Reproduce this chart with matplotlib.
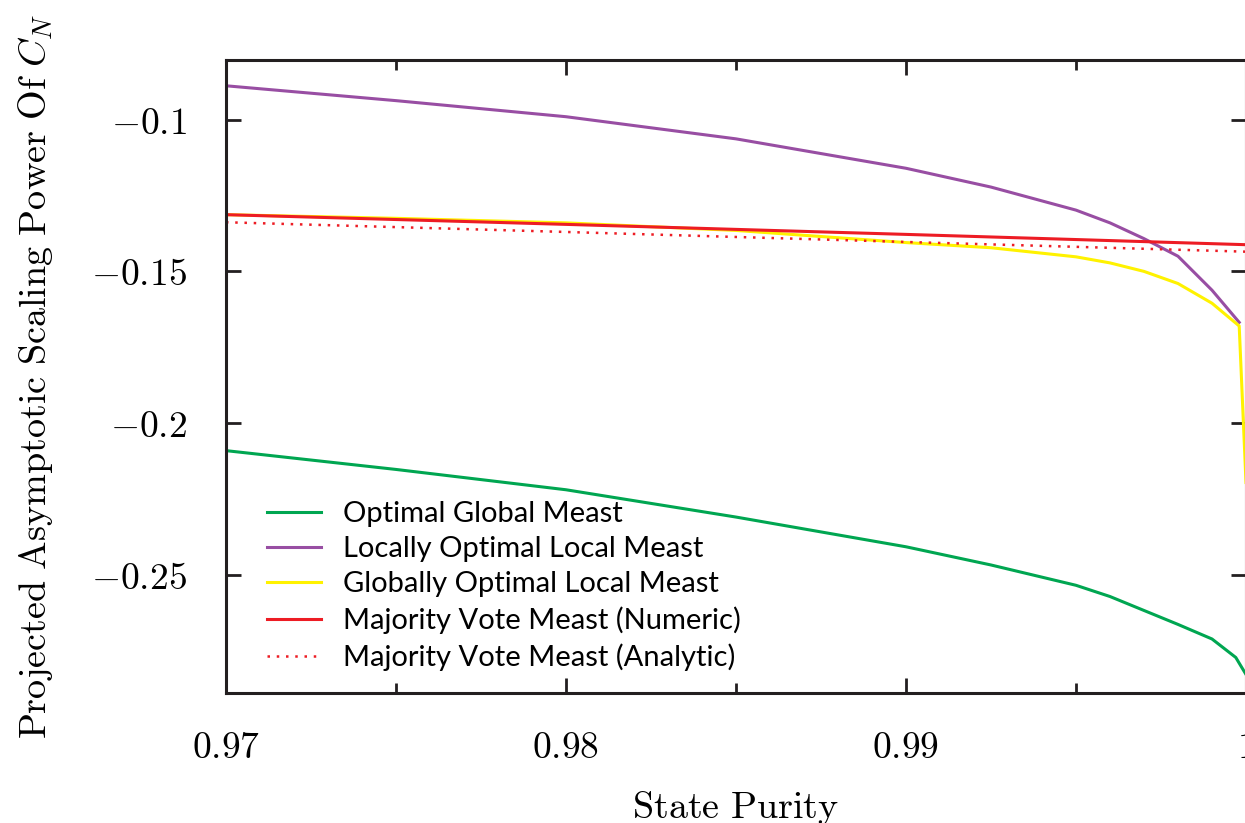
import numpy as np
import matplotlib
matplotlib.use('Agg')
import matplotlib.pyplot as plt
from matplotlib.ticker import FixedLocator, FuncFormatter

plt.rcParams['mathtext.fontset'] = 'cm'

# 数据
x_main = [0.970, 0.975, 0.980, 0.985, 0.990, 0.9925, 0.995, 0.996, 0.997, 0.998, 0.999, 0.9998]
optimal_global_x = [0.970, 0.975, 0.980, 0.985, 0.990, 0.9925, 0.995, 0.996, 0.997, 0.998, 0.999, 0.9997, 1.000]
optimal_global = [-0.2091, -0.2153, -0.2220, -0.2310, -0.2408, -0.2468, -0.2535, -0.2572, -0.2618, -0.2664, -0.2712, -0.2773, -0.2829]
locally_optimal = [-0.0888, -0.0937, -0.0990, -0.1063, -0.1160, -0.1222, -0.1298, -0.1340, -0.1392, -0.1450, -0.1562, -0.1668]
globally_optimal_x = [0.970, 0.975, 0.980, 0.985, 0.990, 0.9925, 0.995, 0.996, 0.997, 0.998, 0.999, 0.9998, 1.000]
globally_optimal = [-0.1313, -0.1325, -0.1340, -0.1365, -0.1405, -0.1422, -0.1452, -0.1472, -0.1500, -0.1540, -0.1605, -0.1680, -0.2196]
majority_x = [0.970, 0.980, 0.990, 1.000]
majority_numeric = [-0.1313, -0.1345, -0.1378, -0.1412]
majority_analytic = [-0.1338, -0.1370, -0.1403, -0.1435]

labels = ['Optimal Global Meast', 'Locally Optimal Local Meast', 'Globally Optimal Local Meast',
          'Majority Vote Meast (Numeric)', 'Majority Vote Meast (Analytic)']

# 构建画布
fig = plt.figure(figsize=(12.45, 8.23), dpi=100)
ax = fig.add_axes([0.1815, 0.158, 0.8193, 0.7691])

lw = 2.2
ax.plot(optimal_global_x, optimal_global, color='#00a651', lw=lw, label=labels[0])
ax.plot(x_main, locally_optimal, color='#984ea3', lw=lw, label=labels[1])
ax.plot(globally_optimal_x, globally_optimal, color='#fff200', lw=lw, label=labels[2])
ax.plot(majority_x, majority_numeric, color='#ed1c24', lw=lw, label=labels[3])
ax.plot(majority_x, majority_analytic, color='#ed1c24', lw=1.8, ls=(0, (1, 2.7)), label=labels[4])

ax.set_xlim(0.97, 1.0)
ax.set_ylim(-0.289, -0.0803)

# 刻度
ax.xaxis.set_major_locator(FixedLocator([0.97, 0.98, 0.99, 1.0]))
ax.xaxis.set_minor_locator(FixedLocator([0.975, 0.985, 0.995]))
ax.yaxis.set_major_locator(FixedLocator([-0.25, -0.2, -0.15, -0.1]))
ax.xaxis.set_major_formatter(FuncFormatter(lambda v, p: '$%g$' % round(v, 3)))
ax.yaxis.set_major_formatter(FuncFormatter(lambda v, p: '$%g$' % round(v, 3)))
ax.tick_params(which='both', direction='in', top=True, right=True, width=2, color='#231f20')
ax.tick_params(which='major', length=11, labelsize=27)
ax.tick_params(which='minor', length=7)
ax.tick_params(axis='x', which='major', pad=27)
ax.tick_params(axis='y', which='major', pad=28)
for s in ax.spines.values():
    s.set_linewidth(2.2)
    s.set_color('#231f20')

ax.set_xlabel(r'$\mathrm{State\ Purity}$', fontsize=27.5, labelpad=16)
ax.set_ylabel(r'$\mathrm{Projected\ Asymptotic\ Scaling\ Power\ Of\ }C_N$', fontsize=27.5, labelpad=26)

leg = ax.legend(loc='upper left', bbox_to_anchor=(0.029, 0.322), frameon=False,
                prop={'family': 'Lato', 'size': 21}, handlelength=1.85,
                handletextpad=0.75, labelspacing=0.32, borderaxespad=0)

fig.savefig('out.png', dpi=100)
